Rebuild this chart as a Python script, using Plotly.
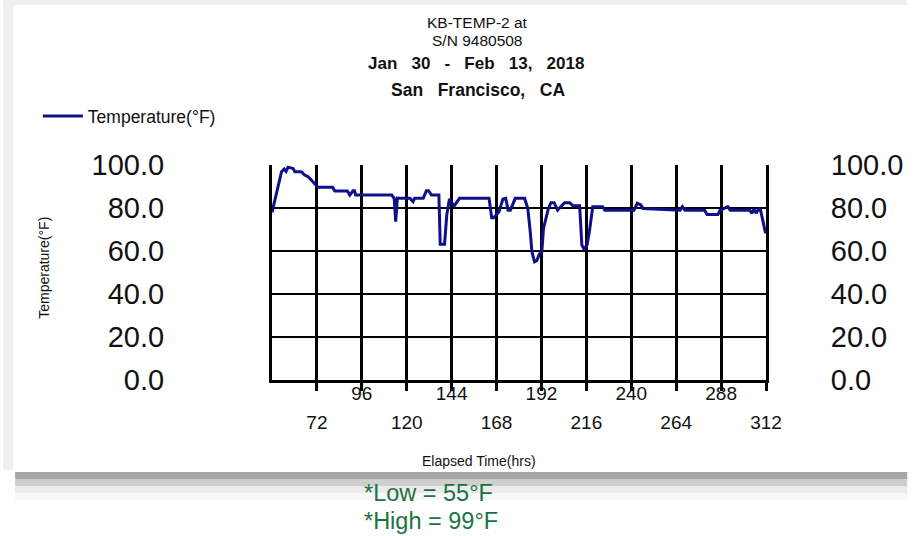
import plotly.graph_objects as go

# ── données ──
hours = [48, 51.3, 53.1, 54.5, 55.5, 56.6, 59.3, 60.2, 63.7, 65.4,
         67.2, 69, 70.7, 72.5, 80.4, 81.6, 88.3, 89.6, 91.3, 92.1,
         92.7, 112, 113.3, 114.1, 115, 116.5, 121.7, 123.4, 124.2, 128.8,
         130.5, 131.7, 133.2, 137.2, 137.9, 140.2, 141.4, 142.8, 144.2, 145.4,
         148.2, 164, 165.4, 166.5, 169.3, 171.4, 172.9, 174.2, 175.4, 178,
         183, 184.7, 186, 186.9, 188.3, 189.5, 190.8, 192.2, 193.1, 194.3,
         195.7, 197.1, 198.8, 200.6, 202.3, 204.4, 207.1, 208.8, 212.4, 213.6,
         214.7, 216.4, 217.6, 219.4, 224.7, 225.9, 241.4, 243.2, 245, 246.3,
         266.1, 267.3, 268.7, 279.2, 280.5, 286.3, 287.5, 290, 291.6, 292.9,
         303.4, 304.4, 305.6, 306.8, 307.9, 309.1, 310.3, 311.8]
temps = [78, 90.7, 96.9, 98.1, 97, 99, 98.4, 96.9, 96.9, 95.3,
         94.6, 93, 91.5, 89.6, 89.6, 87.9, 87.9, 86, 88, 88,
         86, 86, 84.5, 73.6, 84.6, 84.5, 84.5, 83, 84.5, 84.5,
         88, 88, 86, 86, 63.1, 63.1, 76.7, 84.2, 82.2, 81,
         84.5, 84.5, 75.5, 75.5, 78.3, 84.2, 84.5, 79, 79, 84.5,
         84.5, 79.8, 69, 59.7, 55, 55.5, 58.4, 59.7, 70.5, 75.2,
         79.8, 82.5, 82.5, 79, 80.6, 82.5, 82.5, 81, 81, 62.8,
         61, 62.8, 69, 80.6, 80.6, 79, 79, 82.2, 81.5, 79.8,
         79, 80.6, 79, 79, 77, 77, 79, 80, 80.6, 79,
         79, 77.5, 79.5, 77.5, 79.5, 79, 73.6, 68.2]

x_range = [48, 312]
x_ticks_top = [96, 144, 192, 240, 288]
x_ticks_bottom = [72, 120, 168, 216, 264, 312]
y_ticks = [0, 20, 40, 60, 80, 100]

SP = "&nbsp;&nbsp; "
title_lines = ["KB-TEMP-2 at", "S/N 9480508"]
date_line = SP.join(["Jan", "30", "-", "Feb", "13,", "2018"])
place_line = SP.join(["San", "Francisco,", "CA"])
low_txt = "*Low = 55°F"
high_txt = "*High = 99°F"

W, H = 915, 536
L, R, T, B = 272, 772, 165, 380   # zone de tracé en pixels
FONT = "Liberation Sans, Arial, sans-serif"
NAVY = "#10108a"


def px(x):
    return (x - L) / (R - L)


def py(y):
    return (B - y) / (B - T)


fig = go.Figure()
fig.add_trace(go.Scatter(
    x=hours, y=temps, mode="lines", name="Temperature(°F)",
    line=dict(color=NAVY, width=3),
))
# axe secondaire : seulement pour la rangée haute des étiquettes
fig.add_trace(go.Scatter(x=x_range, y=[None, None], xaxis="x2", yaxis="y2",
                         showlegend=False, hoverinfo="skip"))

all_x = sorted(x_ticks_top + x_ticks_bottom)
fig.update_layout(
    width=W, height=H, autosize=False,
    margin=dict(l=L, r=W - R, t=T, b=H - B),
    paper_bgcolor="white", plot_bgcolor="white",
    font=dict(family=FONT, color="#111"),
    xaxis=dict(
        range=x_range, tickvals=all_x,
        ticktext=[str(v) if v in x_ticks_bottom else "" for v in all_x],
        showgrid=True, gridcolor="black", gridwidth=3,
        showline=True, linecolor="black", linewidth=3,
        ticks="outside", ticklen=8, tickwidth=3, tickcolor="black",
        tickfont=dict(size=19, color="#111"), ticklabelstandoff=15,
        zeroline=False,
    ),
    xaxis2=dict(
        range=x_range, overlaying="x", anchor="y", side="bottom",
        tickvals=x_ticks_top, ticktext=[str(v) for v in x_ticks_top],
        showgrid=False, showline=False, ticks="", zeroline=False,
        tickfont=dict(size=19, color="#111"), ticklabelstandoff=0,
    ),
    yaxis=dict(
        range=[0, 100], tickvals=y_ticks, ticktext=[f"{v:.1f}" for v in y_ticks],
        showgrid=True, gridcolor="black", gridwidth=1.5,
        showline=True, linecolor="black", linewidth=3,
        tickfont=dict(size=29, color="#111"), ticklabelstandoff=99,
        zeroline=False,
    ),
    yaxis2=dict(
        range=[0, 100], overlaying="y", side="right", anchor="x",
        tickvals=y_ticks, ticktext=[f"{v:.1f}" for v in y_ticks],
        showgrid=False, showline=True, linecolor="black", linewidth=3,
        tickfont=dict(size=29, color="#111"), ticklabelstandoff=56,
        zeroline=False,
    ),
    legend=dict(
        x=px(35), y=py(116), xanchor="left", yanchor="middle",
        bgcolor="rgba(0,0,0,0)", font=dict(size=17.5, color="#111"),
        itemwidth=40,
    ),
    showlegend=True,
)

# cadre gris de la capture d'origine
bands = [
    (0, 0, W, 5, "#efefef"),
    (0, 0, 10, 470, "#efefef"),
    (12, 472, W, 479, "#a6a6a6"),
    (12, 479, W, 486, "#cfcfcf"),
    (12, 486, W, 493, "#ebebeb"),
    (12, 493, W, 500, "#f8f8f8"),
]
for x0, y0, x1, y1, col in bands:
    fig.add_shape(type="rect", xref="paper", yref="paper",
                  x0=px(x0), x1=px(x1), y0=py(y0), y1=py(y1),
                  fillcolor=col, line_width=0, layer="below")

# titres
ann = [
    (title_lines[0], 480, 22, 15.5, False),
    (title_lines[1], 480, 41, 15.5, False),
    (date_line, 478, 64, 17, True),
    (place_line, 480, 90, 17.5, True),
]
for txt, x, y, size, bold in ann:
    fig.add_annotation(text=f"<b>{txt}</b>" if bold else txt,
                       xref="paper", yref="paper", x=px(x), y=py(y),
                       showarrow=False, font=dict(size=size, color="#111"),
                       xanchor="center", yanchor="middle")

fig.add_annotation(text="Elapsed Time(hrs)", xref="paper", yref="paper",
                   x=px(482), y=py(461), showarrow=False,
                   xanchor="center", yanchor="middle",
                   font=dict(size=14, color="#111"))
fig.add_annotation(text="Temperature(°F)", xref="paper", yref="paper",
                   x=px(41), y=py(268), showarrow=False, textangle=-90,
                   xanchor="center", yanchor="middle",
                   font=dict(size=14, color="#111"))

for txt, y in [(low_txt, 493), (high_txt, 521)]:
    fig.add_annotation(text=txt, xref="paper", yref="paper",
                       x=px(363), y=py(y), xanchor="left", yanchor="middle",
                       showarrow=False, font=dict(size=23.5, color="#1b7343"))

fig.write_html("out.html",
               config={"displayModeBar": False, "responsive": False},
               post_script="document.body.style.margin='0';"
                           "document.body.style.overflow='hidden';")
